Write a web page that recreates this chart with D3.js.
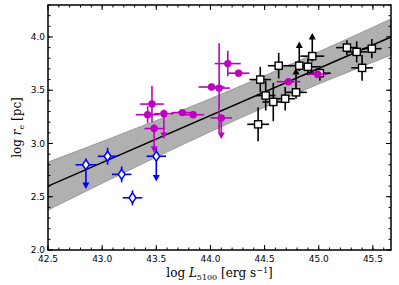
<!DOCTYPE html>
<html>
<head>
<meta charset="utf-8">
<script src="https://cdn.jsdelivr.net/npm/d3@7"></script>
<style>
  body { margin: 0; background: #fff; }
  text { font-family: "DejaVu Sans", sans-serif; }
  .lab { font-family: "DejaVu Serif", "Liberation Serif", serif; font-size: 12px; }
</style>
</head>
<body>
<svg width="399" height="285"></svg>
<script>
var svg = d3.select("svg");

// fit line and its band
var fitX = [42.5, 45.667];
var fitY = [2.60, 4.00];
var bandX  = [42.5, 43.0, 43.5, 44.0, 44.5, 45.0, 45.667];
var bandLo = [2.375, 2.626, 2.872, 3.111, 3.341, 3.559, 3.829];
var bandHi = [2.825, 3.018, 3.216, 3.421, 3.636, 3.861, 4.169];

// rows: [logL, logR, xerr, yerr, limit end (null if none)]
var bluePts = [
  [42.85, 2.80, 0.095, 0.06, 2.61],
  [43.05, 2.88, 0.09, 0.08, null],
  [43.18, 2.71, 0.09, 0.075, null],
  [43.28, 2.49, 0.09, 0.07, null],
  [43.50, 2.88, 0.09, 0.08, 2.68]
];
var magentaPts = [
  [43.46, 3.37, 0.11, 0.17, null],
  [43.42, 3.27, 0.11, 0.08, null],
  [43.57, 3.28, 0.09, 0.04, 3.08],
  [43.48, 3.14, 0.09, 0.04, 2.95],
  [43.74, 3.29, 0.10, 0.03, null],
  [43.84, 3.27, 0.10, 0.03, null],
  [44.01, 3.53, 0.12, 0.03, null],
  [44.08, 3.52, 0.10, 0.42, null],
  [44.10, 3.24, 0.10, 0.03, 3.08],
  [44.16, 3.75, 0.12, 0.12, null],
  [44.26, 3.66, 0.10, 0.03, null],
  [44.72, 3.58, 0.11, 0.03, null],
  [44.99, 3.65, 0.09, 0.03, null]
];
var blackPts = [
  [44.46, 3.60, 0.10, 0.12, null],
  [44.44, 3.18, 0.10, 0.16, null],
  [44.51, 3.45, 0.09, 0.14, null],
  [44.58, 3.39, 0.10, 0.18, null],
  [44.63, 3.73, 0.10, 0.12, null],
  [44.69, 3.42, 0.09, 0.11, null],
  [44.79, 3.48, 0.10, 0.06, 3.67],
  [44.82, 3.73, 0.10, 0.05, 3.92],
  [44.90, 3.72, 0.10, 0.08, null],
  [44.94, 3.82, 0.11, 0.05, 4.00],
  [45.01, 3.66, 0.10, 0.07, null],
  [45.26, 3.90, 0.10, 0.07, null],
  [45.35, 3.86, 0.10, 0.10, null],
  [45.40, 3.71, 0.10, 0.12, null],
  [45.49, 3.89, 0.09, 0.09, null]
];

var xTicks = [42.5, 43.0, 43.5, 44.0, 44.5, 45.0, 45.5];
var yTicks = [2.0, 2.5, 3.0, 3.5, 4.0];

var pLeft = 48, pRight = 391, pTop = 5, pBottom = 250;
var x = d3.scaleLinear().domain([42.5, 45.667]).range([pLeft, pRight]);
var y = d3.scaleLinear().domain([2.0, 4.3]).range([pBottom, pTop]);

var plot = svg.append("g");

// band
var area = d3.area()
  .x(function(d) { return x(d[0]); })
  .y0(function(d) { return y(d[1]); })
  .y1(function(d) { return y(d[2]); })
  .curve(d3.curveMonotoneX);
plot.append("path")
  .datum(bandX.map(function(v, i) { return [v, bandLo[i], bandHi[i]]; }))
  .attr("d", area)
  .attr("fill", "#b0b0b0")
  .attr("stroke", "#8c8c8c")
  .attr("stroke-width", 0.8);

plot.append("line")
  .attr("x1", x(fitX[0])).attr("y1", y(fitY[0]))
  .attr("x2", x(fitX[1])).attr("y2", y(fitY[1]))
  .attr("stroke", "#000").attr("stroke-width", 1.5);

function drawSeries(pts, color, marker) {
  var g = plot.append("g");
  pts.forEach(function(p) {
    var cx = x(p[0]), cy = y(p[1]);
    g.append("line")
      .attr("x1", x(p[0] - p[2])).attr("x2", x(p[0] + p[2]))
      .attr("y1", cy).attr("y2", cy)
      .attr("stroke", color).attr("stroke-width", 1.6);
    var y1, y2;
    if (p[4] == null) { y1 = y(p[1] - p[3]); y2 = y(p[1] + p[3]); }
    else if (p[4] < p[1]) { y1 = y(p[4]); y2 = y(p[1] + p[3]); }
    else { y1 = y(p[1] - p[3]); y2 = y(p[4]); }
    g.append("line")
      .attr("x1", cx).attr("x2", cx).attr("y1", y1).attr("y2", y2)
      .attr("stroke", color).attr("stroke-width", 1.6);
    if (p[4] != null) {
      var ly = y(p[4]);
      var dir = p[4] < p[1] ? 1 : -1; // 1 = pointing down
      g.append("path")
        .attr("d", "M" + (cx - 3.5) + "," + (ly - 2.5 * dir) +
                   "L" + (cx + 3.5) + "," + (ly - 2.5 * dir) +
                   "L" + cx + "," + (ly + 4 * dir) + "Z")
        .attr("fill", color);
    }
  });
  pts.forEach(function(p) {
    var cx = x(p[0]), cy = y(p[1]);
    if (marker == "circle") {
      g.append("circle").attr("cx", cx).attr("cy", cy).attr("r", 3.7).attr("fill", color);
    } else if (marker == "square") {
      g.append("rect").attr("x", cx - 3.6).attr("y", cy - 3.6)
        .attr("width", 7.2).attr("height", 7.2)
        .attr("fill", "#fff").attr("stroke", color).attr("stroke-width", 1.4);
    } else {
      g.append("path")
        .attr("d", "M" + cx + "," + (cy - 5) + "L" + (cx + 3.4) + "," + cy +
                   "L" + cx + "," + (cy + 5) + "L" + (cx - 3.4) + "," + cy + "Z")
        .attr("fill", "#fff").attr("stroke", color).attr("stroke-width", 1.5);
    }
  });
}

drawSeries(bluePts, "#0000ff", "diamond");
drawSeries(blackPts, "#000", "square");
drawSeries(magentaPts, "#bf00bf", "circle");

// axes, ticks inward on all four sides
var minorX = d3.range(42.5, 45.66, 0.1);
var minorY = d3.range(2.0, 4.31, 0.1);

function tickLines(sel, vals, len, horiz) {
  vals.forEach(function(v) {
    if (horiz) {
      sel.append("line").attr("x1", x(v)).attr("x2", x(v)).attr("y1", pBottom).attr("y2", pBottom - len);
      sel.append("line").attr("x1", x(v)).attr("x2", x(v)).attr("y1", pTop).attr("y2", pTop + len);
    } else {
      sel.append("line").attr("y1", y(v)).attr("y2", y(v)).attr("x1", pLeft).attr("x2", pLeft + len);
      sel.append("line").attr("y1", y(v)).attr("y2", y(v)).attr("x1", pRight).attr("x2", pRight - len);
    }
  });
}
var ticks = svg.append("g").attr("stroke", "#000").attr("stroke-width", 1);
tickLines(ticks, minorX, 2.5, true);
tickLines(ticks, minorY, 2.5, false);
tickLines(ticks, xTicks, 5, true);
tickLines(ticks, yTicks, 5, false);

svg.append("rect")
  .attr("x", pLeft).attr("y", pTop)
  .attr("width", pRight - pLeft).attr("height", pBottom - pTop)
  .attr("fill", "none").attr("stroke", "#000").attr("stroke-width", 1.5);

svg.append("g").selectAll("text").data(xTicks).enter().append("text")
  .attr("x", function(d) { return x(d); })
  .attr("y", pBottom + 12)
  .attr("text-anchor", "middle")
  .attr("font-size", 9)
  .text(function(d) { return d.toFixed(1); });

svg.append("g").selectAll("text").data(yTicks).enter().append("text")
  .attr("x", pLeft - 3)
  .attr("y", function(d) { return y(d) + 3.2; })
  .attr("text-anchor", "end")
  .attr("font-size", 9)
  .text(function(d) { return d.toFixed(1); });

// axis labels
var xl = svg.append("text").attr("class", "lab")
  .attr("x", (pLeft + pRight) / 2).attr("y", 277).attr("text-anchor", "middle");
xl.append("tspan").text("log ");
xl.append("tspan").attr("font-style", "italic").text("L");
xl.append("tspan").attr("font-size", 8).attr("dy", 2.5).text("5100");
xl.append("tspan").attr("dy", -2.5).text(" [erg s");
xl.append("tspan").attr("font-size", 8).attr("dy", -4.5).text("−1");
xl.append("tspan").attr("dy", 4.5).text("]");

var yl = svg.append("text").attr("class", "lab")
  .attr("transform", "translate(21," + (pTop + pBottom) / 2 + ") rotate(-90)")
  .attr("text-anchor", "middle");
yl.append("tspan").text("log ");
yl.append("tspan").attr("font-style", "italic").text("r");
yl.append("tspan").attr("font-size", 8).attr("dy", 2.5).text("e");
yl.append("tspan").attr("dy", -2.5).text(" [pc]");
</script>
</body>
</html>
